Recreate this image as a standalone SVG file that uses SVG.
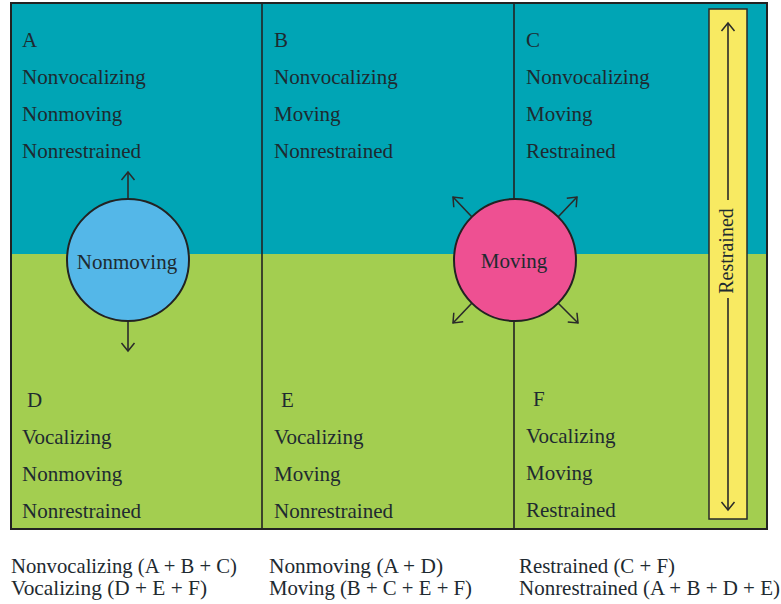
<svg xmlns="http://www.w3.org/2000/svg" width="781" height="604" viewBox="0 0 781 604">
<style>
  .t { font-family: "Liberation Serif", "Times New Roman", serif; font-size: 21px; fill: #1e2a30; }
  .lg { font-family: "Liberation Serif", "Times New Roman", serif; font-size: 21px; fill: #1e2a30; }
  .div { stroke: #222; stroke-width: 1.6; fill: none; }
  .arr { stroke: #2a2a2a; stroke-width: 1.6; fill: none; marker-end: url(#open); }
  .circ { stroke: #222; stroke-width: 2; }
</style>
<defs>
  <marker id="open" markerUnits="userSpaceOnUse" markerWidth="20" markerHeight="20" refX="0" refY="0" viewBox="-10 -10 20 20" orient="auto" overflow="visible">
    <path d="M-8,-6.5 L0,0 L-8,6.5" fill="none" stroke="#2a2a2a" stroke-width="1.5"/>
  </marker>
</defs>
<rect x="0" y="0" width="781" height="604" fill="#ffffff"/>
<g id="background">
  <rect x="11" y="3" width="756" height="251" fill="#00A5B5"/>
  <rect x="11" y="254" width="756" height="275" fill="#A3CE50"/>
  <line class="div" x1="262" y1="3" x2="262" y2="529"/>
  <line class="div" x1="514" y1="3" x2="514" y2="529"/>
  <rect x="11" y="3" width="756" height="526" fill="none" stroke="#222" stroke-width="2"/>
</g>
<g id="cell-A">
  <text class="t" x="22" y="47">A</text>
  <text class="t" x="22" y="84">Nonvocalizing</text>
  <text class="t" x="22" y="121">Nonmoving</text>
  <text class="t" x="22" y="158">Nonrestrained</text>
</g>
<g id="cell-B">
  <text class="t" x="274" y="47">B</text>
  <text class="t" x="274" y="84">Nonvocalizing</text>
  <text class="t" x="274" y="121">Moving</text>
  <text class="t" x="274" y="158">Nonrestrained</text>
</g>
<g id="cell-C">
  <text class="t" x="526" y="47">C</text>
  <text class="t" x="526" y="84">Nonvocalizing</text>
  <text class="t" x="526" y="121">Moving</text>
  <text class="t" x="526" y="158">Restrained</text>
</g>
<g id="cell-D">
  <text class="t" x="27" y="407">D</text>
  <text class="t" x="22" y="444">Vocalizing</text>
  <text class="t" x="22" y="481">Nonmoving</text>
  <text class="t" x="22" y="518">Nonrestrained</text>
</g>
<g id="cell-E">
  <text class="t" x="281" y="407">E</text>
  <text class="t" x="274" y="444">Vocalizing</text>
  <text class="t" x="274" y="481">Moving</text>
  <text class="t" x="274" y="518">Nonrestrained</text>
</g>
<g id="cell-F">
  <text class="t" x="533" y="406">F</text>
  <text class="t" x="526" y="443">Vocalizing</text>
  <text class="t" x="526" y="480">Moving</text>
  <text class="t" x="526" y="517">Restrained</text>
</g>
<g id="connectors">
  <line class="arr" x1="128" y1="198" x2="128" y2="172"/>
  <line class="arr" x1="128" y1="321" x2="128" y2="351"/>
  <line class="arr" x1="558" y1="217" x2="577" y2="197"/>
  <line class="arr" x1="472" y1="217" x2="453" y2="197"/>
  <line class="arr" x1="472" y1="303" x2="453" y2="323"/>
  <line class="arr" x1="558" y1="303" x2="578" y2="323"/>
</g>
<g id="node-nonmoving">
  <circle class="circ" cx="128" cy="260" r="61" fill="#54B7E8"/>
  <text class="t" x="127" y="269" text-anchor="middle">Nonmoving</text>
</g>
<g id="node-moving">
  <circle class="circ" cx="515" cy="260" r="61" fill="#EE5092"/>
  <text class="t" x="514" y="268" text-anchor="middle">Moving</text>
</g>
<g id="node-restrained">
  <rect x="709" y="9" width="38" height="510" fill="#F8EA62" stroke="#2a2a2a" stroke-width="1.5"/>
  <line class="arr" x1="728" y1="200" x2="728" y2="23" stroke-width="1.3"/>
  <line class="arr" x1="728" y1="298" x2="728" y2="510" stroke-width="1.3"/>
  <text class="t" style="font-size:20px" x="0" y="0" text-anchor="middle" transform="translate(733,251) rotate(-90)">Restrained</text>
</g>
<g id="legend">
  <text class="lg" x="11" y="573" textLength="226" lengthAdjust="spacingAndGlyphs">Nonvocalizing (A + B + C)</text>
  <text class="lg" x="11" y="595" textLength="196" lengthAdjust="spacingAndGlyphs">Vocalizing (D + E + F)</text>
  <text class="lg" x="269" y="573" textLength="174" lengthAdjust="spacingAndGlyphs">Nonmoving (A + D)</text>
  <text class="lg" x="269" y="595" textLength="203" lengthAdjust="spacingAndGlyphs">Moving (B + C + E + F)</text>
  <text class="lg" x="519" y="573" textLength="156" lengthAdjust="spacingAndGlyphs">Restrained (C + F)</text>
  <text class="lg" x="519" y="595" textLength="261" lengthAdjust="spacingAndGlyphs">Nonrestrained (A + B + D + E)</text>
</g>
</svg>
